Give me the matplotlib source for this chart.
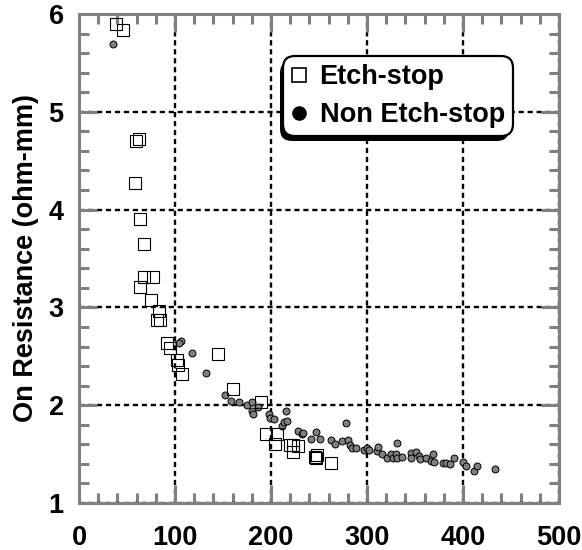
import matplotlib
matplotlib.use("Agg")
import matplotlib.pyplot as plt
from matplotlib.lines import Line2D
from matplotlib import patheffects
from matplotlib.ticker import MultipleLocator

plt.rcParams['font.family'] = ['Liberation Sans', 'DejaVu Sans']
plt.rcParams['font.weight'] = 'bold'

# Etch-stop devices (open squares)
etch_x = [38.2, 46.1, 59.0, 62.5, 58.3, 63.5, 68.0, 68.0, 76.7, 63.5, 74.7,
          83.6, 80.9, 84.4, 91.3, 94.8, 101.8, 103.5, 107.6, 145.1, 160.1,
          189.6, 194.8, 205.9, 204.2, 219.8, 223.3, 222.6, 228.5, 245.8,
          247.6, 246.9, 262.2]
etch_y = [5.90, 5.84, 4.70, 4.72, 4.27, 3.90, 3.65, 3.31, 3.31, 3.21, 3.08,
          2.96, 2.87, 2.87, 2.64, 2.58, 2.46, 2.41, 2.32, 2.52, 2.17,
          2.03, 1.71, 1.71, 1.60, 1.59, 1.59, 1.52, 1.58, 1.47,
          1.49, 1.46, 1.41]

# Non etch-stop devices (gray dots)
non_x = [35.7, 105.9, 104.5, 117.4, 132.3, 152.1, 158.3, 166.3, 174.7, 180.5,
         179.9, 181.6, 186.8, 198.3, 199.0, 203.1, 215.6, 211.1, 213.5, 216.3,
         227.8, 232.0, 233.7, 246.9, 241.3, 251.0, 262.2, 266.7, 273.6, 277.8,
         279.9, 282.3, 284.1, 288.5, 296.9, 300.3, 302.4, 310.1, 311.8, 315.3,
         320.5, 325.0, 326.7, 330.9, 330.2, 330.9, 336.1, 345.8, 345.8, 351.0,
         354.5, 355.2, 361.5, 366.3, 368.4, 370.1, 378.8, 381.9, 386.5, 390.6,
         399.7, 403.1, 411.5, 414.2, 433.3]
non_y = [5.69, 2.66, 2.64, 2.53, 2.33, 2.10, 2.04, 2.03, 2.00, 2.03,
         1.94, 1.91, 1.98, 1.91, 1.87, 1.86, 1.94, 1.79, 1.83, 1.84,
         1.74, 1.71, 1.72, 1.73, 1.65, 1.65, 1.64, 1.60, 1.63, 1.82,
         1.64, 1.59, 1.56, 1.56, 1.54, 1.56, 1.54, 1.53, 1.57, 1.50,
         1.46, 1.50, 1.46, 1.61, 1.50, 1.46, 1.47, 1.51, 1.46, 1.52,
         1.48, 1.45, 1.46, 1.43, 1.50, 1.42, 1.41, 1.41, 1.40, 1.46,
         1.42, 1.38, 1.33, 1.38, 1.35]

x_ticks = [0, 100, 200, 300, 400, 500]
y_ticks = [1, 2, 3, 4, 5, 6]

fig = plt.figure(figsize=(5.82, 5.5), dpi=100)
ax = fig.add_axes([79 / 582, 47 / 550, 480 / 582, 489 / 550])

ax.plot(non_x, non_y, linestyle='none', marker='o', markersize=5,
        markerfacecolor='#808080', markeredgecolor='black',
        markeredgewidth=0.7, zorder=3)
ax.plot(etch_x, etch_y, linestyle='none', marker='s', markersize=8.2,
        markerfacecolor='none', markeredgecolor='black',
        markeredgewidth=0.8, zorder=4)

ax.set_xlim(0, 500)
ax.set_ylim(1, 6)
ax.set_xticks(x_ticks)
ax.set_yticks(y_ticks)
ax.xaxis.set_minor_locator(MultipleLocator(20))
ax.yaxis.set_minor_locator(MultipleLocator(0.2))

# dashed grid
ax.set_axisbelow(True)
ax.grid(True, which='major', color='black', linewidth=1.7,
        linestyle=(0, (2.2, 1.6)))

grey = '#808080'
for s in ax.spines.values():
    s.set_color(grey)
    s.set_linewidth(2.2)
ax.tick_params(which='both', direction='in', top=True, right=True,
               color=grey, width=2.2)
ax.tick_params(which='major', length=13, labelsize=19.5)
ax.tick_params(which='minor', length=7)
ax.tick_params(axis='x', which='major', pad=16)
ax.tick_params(axis='y', which='major', pad=11)

ax.set_ylabel('On Resistance (ohm-mm)', fontsize=19.5, fontweight='bold',
              labelpad=7)

handles = [
    Line2D([], [], linestyle='none', marker='s', markersize=9.5,
           markerfacecolor='white', markeredgecolor='black',
           markeredgewidth=1.2),
    Line2D([], [], linestyle='none', marker='o', markersize=9.5,
           markerfacecolor='black', markeredgecolor='black'),
]
leg = ax.legend(handles, ['Etch-stop', 'Non Etch-stop'], loc='upper left',
                bbox_to_anchor=(0.425, 0.914), borderaxespad=0,
                prop={'size': 19.5, 'weight': 'bold'}, frameon=True,
                fancybox=True, framealpha=1, edgecolor='black',
                handlelength=0.6, handletextpad=0.45, borderpad=0.3,
                labelspacing=0.45)
frame = leg.get_frame()
frame.set_linewidth(1.6)
frame.set_boxstyle('round', pad=0, rounding_size=0.45)
# black shadow offset to the lower left
frame.set_path_effects([
    patheffects.SimplePatchShadow(offset=(-2.5, -3.5), shadow_rgbFace='black',
                                  alpha=1.0),
    patheffects.Normal(),
])
leg.set_zorder(10)

fig.savefig('out.png', dpi=100)
